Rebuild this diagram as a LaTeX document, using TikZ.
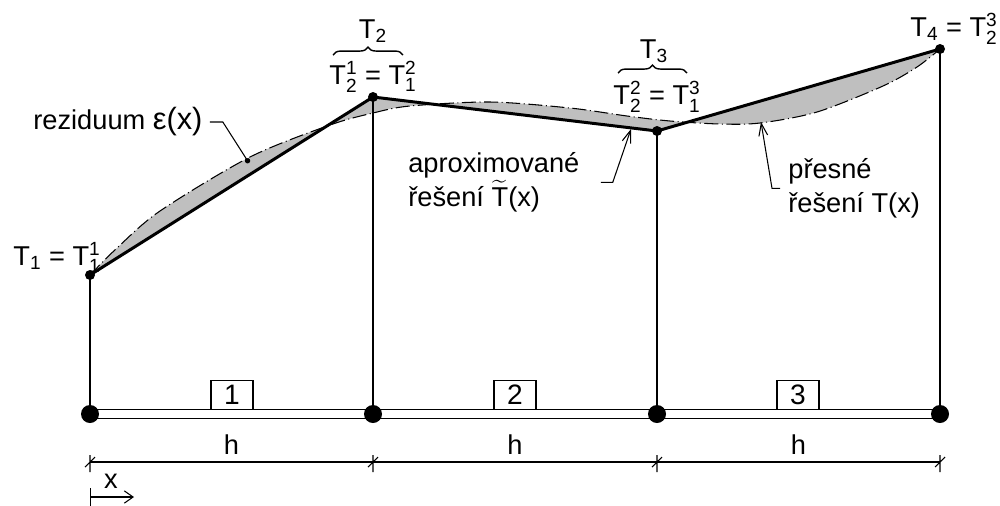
\documentclass[tikz,border=0pt]{standalone}
\usepackage{amsmath}
\usepackage{fontspec}
\setmainfont{Liberation Sans}
\usetikzlibrary{arrows.meta, decorations.pathreplacing, positioning}

\newcommand{\Ti}[1]{T$_{\text{#1}}$}
\newcommand{\Tij}[2]{T$_{\text{#1}}^{\text{#2}}$}

\tikzset{
	lbl/.style={font=\fontsize{15.5}{19.5}\selectfont, inner sep=0pt},
	knot/.style={circle, fill, inner sep=0pt, minimum size=0.36cm},
	tpoint/.style={circle, fill, inner sep=0pt, minimum size=0.2cm},
	elem/.style={draw, line width=0.6pt, minimum width=0.84cm, minimum height=0.58cm,
		inner sep=0pt, anchor=south, font=\fontsize{16}{18}\selectfont},
	approx/.style={line width=1.7pt, line join=round},
	exact/.style={line width=0.6pt, dash pattern=on 8pt off 2pt on 0.6pt off 2pt},
	vline/.style={line width=0.75pt},
	bar/.style={double, line width=0.7pt, double distance=4pt},
	leader/.style={line width=0.6pt},
	dim/.style={line width=0.6pt},
	brc/.style={decorate, decoration={brace, amplitude=4.5pt}, line width=0.8pt},
	tip/.style={-{Straight Barb[length=7pt, width=5pt]}}
}

\begin{document}
\begin{tikzpicture}[x=0.02cm, y=-0.02cm]
	\useasboundingbox (0,0) rectangle (1000,505);
	
	% Knots and nodal values
	\foreach \i/\x in {1/90, 2/373, 3/657, 4/940}
	\coordinate (n\i) at (\x,414);
	\coordinate (T1) at (90,275);
	\coordinate (T2) at (373,97);
	\coordinate (T3) at (657,131);
	\coordinate (T4) at (940,49);
	
	% Residual
	\fill[gray!50] plot[smooth] coordinates {(90,275) (117,248) (160,211) (250,157) (330,125)
		(373,113) (410,106) (490,102) (570,108) (627,116) (670,121) (720,124) (760,123)
		(817,112) (883,86) (917,67) (940,49)} -- (T3) -- (T2) -- cycle;
	
	% Verticals
	\foreach \i in {1,...,4}
	\draw[vline] (n\i) -- (T\i);
	
	% Exact solution
	\draw[exact] plot[smooth] coordinates {(90,275) (117,248) (160,211) (250,157) (330,125)
		(373,113) (410,106) (490,102) (570,108) (627,116) (670,121) (720,124) (760,123)
		(817,112) (883,86) (917,67) (940,49)};
	
	% Approximation
	\draw[approx] (T1) -- (T2) -- (T3) -- (T4);
	\foreach \i in {1,...,4}
	\node[tpoint] (P\i) at (T\i) {};
	
	% Bar with elements
	\draw[bar] (n1) -- (n4);
	\foreach \i in {1,...,4}
	\node[knot] (k\i) at (n\i) {};
	\foreach \i/\x in {1/232, 2/515, 3/798}
	\node[elem] (e\i) at (\x,410) {\i};
	
	% Dimensions
	\foreach \i/\x in {1/90, 2/373, 3/657, 4/940}
	\coordinate (d\i) at (\x,462);
	\draw[dim] (d1) -- (d4);
	\foreach \i in {1,...,4}
	\draw[dim] (d\i) ++(0,-7) -- ++(0,17) (d\i) ++(-5,5) -- ++(10,-10);
	\foreach \a/\b in {1/2, 2/3, 3/4}
	\path (d\a) -- node[lbl, above=0.14cm] (h\a) {h} (d\b);
	
	% Local coordinate
	\coordinate (x0) at (90,497);
	\coordinate (x1) at (134,497);
	\draw[dim, {Bar[width=10pt]}-{Straight Barb[length=5pt, width=7pt]}] (x0) -- (x1);
	\node[lbl] (xl) at (111,481) {x};
	
	% Nodal labels
	\node[lbl, anchor=base east] (L1) at (101,265) {\Ti{1} = \Tij{1}{1}};
	\node[lbl, anchor=base] (L2) at (373,84) {\Tij{2}{1} = \Tij{1}{2}};
	\node[lbl, anchor=base] (L3) at (657,104) {\Tij{2}{2} = \Tij{1}{3}};
	\node[lbl, anchor=base east] (L4) at (998,36) {\Ti{4} = \Tij{2}{3}};
	\draw[brc] (333,55) -- (403,55);
	\draw[brc] (618,73) -- (687,73);
	\node[lbl, anchor=base] (B2) at (373,38) {\Ti{2}};
	\node[lbl, anchor=base] (B3) at (654,58) {\Ti{3}};
	
	% Descriptions
	\node[lbl, anchor=west] (res) at (33,122) {reziduum {\fontsize{17.5}{19.5}\selectfont ε(x)}};
	\coordinate (resp) at (249,163);
	\draw[leader, -{Circle[length=3pt]}] ([xshift=0.14cm]res.east) -- ++(13,0) -- (resp);
	
	\node[lbl, anchor=north west, align=left] (apx) at (408,152) {aproximované\\řešení $\widetilde{\text{T}}$(x)};
	\coordinate (apxp) at (631,129);
	\draw[leader, tip] ([xshift=0.42cm]apx.east) -- ++(12,0) -- (apxp);
	
	\node[lbl, anchor=north west, align=left] (prs) at (788,158) {přesné\\řešení T(x)};
	\coordinate (prsp) at (761,122);
	\draw[leader, tip] ([xshift=-0.16cm]prs.west) -- ++(-8,0) -- (prsp);
\end{tikzpicture}
\end{document}
